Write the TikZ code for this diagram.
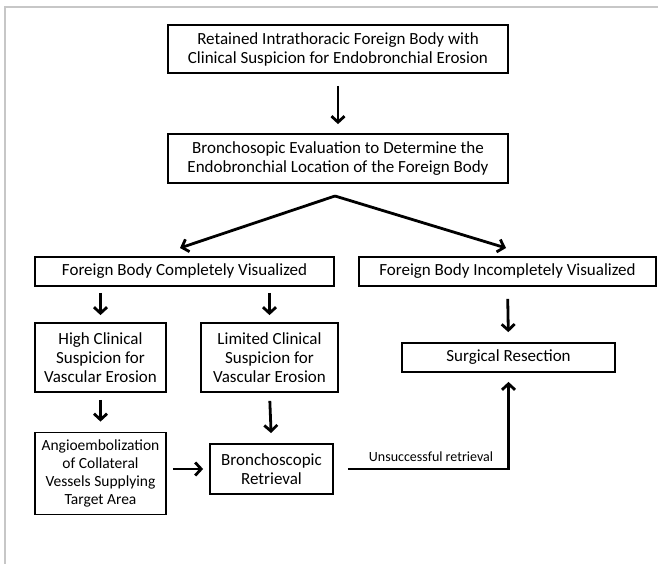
\documentclass[tikz,border=0pt]{standalone}
\usepackage{fontspec}
\setmainfont{Carlito}
\usetikzlibrary{arrows.meta}
\begin{document}
\begin{tikzpicture}[x=1pt,y=-1pt,
  box/.style={draw=black, line width=1.8pt, align=center, inner sep=0pt,
    font=\fontsize{17}{19}\selectfont},
  arr/.style={draw=black, line width=2.8pt,
    -{Straight Barb[length=6pt,width=13pt]}},
  lbl/.style={font=\fontsize{14}{15}\selectfont, inner sep=0pt}]
\useasboundingbox (0,0) rectangle (658,564);
\draw[black!22, line width=2.2pt] (5,564) -- (5,7) -- (658,7);

\node[box, minimum width=340pt, minimum height=48pt] (b1) at (338,49)
  {Retained Intrathoracic Foreign Body with\\Clinical Suspicion for Endobronchial Erosion};
\node[box, minimum width=340pt, minimum height=49pt] (b2) at (338,158.5)
  {Bronchosopic Evaluation to Determine the\\Endobronchial Location of the Foreign Body};
\node[box, minimum width=299pt, minimum height=29pt] (b3) at (184.5,271.5)
  {Foreign Body Completely Visualized};
\node[box, minimum width=297pt, minimum height=29pt] (b4) at (507.5,271.5)
  {Foreign Body Incompletely Visualized};
\node[box, minimum width=131pt, minimum height=69pt] (hi) at (100.5,357.5)
  {High Clinical\\Suspicion for\\Vascular Erosion};
\node[box, minimum width=137pt, minimum height=69pt] (li) at (269.5,357.5)
  {Limited Clinical\\Suspicion for\\Vascular Erosion};
\node[box, minimum width=213pt, minimum height=29pt] (sr) at (508.5,357.5)
  {Surgical Resection};
\node[box, minimum width=131pt, minimum height=82pt,
  font=\fontsize{15.5}{18}\selectfont] (an) at (100.5,473.5)
  {Angioembolization\\of Collateral\\Vessels Supplying\\Target Area};
\node[box, minimum width=123pt, minimum height=50pt] (br) at (271.5,469)
  {Bronchoscopic\\Retrieval};

\coordinate (apex) at (335,196);
\coordinate (sl) at (180,248);
\coordinate (sre) at (506,248);

\draw[arr, shorten <=12pt, shorten >=9pt] (b1.south) -- (b2.north);
\draw[arr] (apex) -- (sl);
\draw[arr] (apex) -- (sre);
\draw[arr, shorten <=6pt, shorten >=7pt] (b3.south -| hi.north) -- (hi.north);
\draw[arr, shorten <=6pt, shorten >=7pt] (b3.south -| li.north) -- (li.north);
\draw[arr, shorten <=12pt, shorten >=10pt] (b4.south) -- (sr.north);
\draw[arr, shorten <=7pt, shorten >=10pt] (hi.south) -- (an.north);
\draw[arr, shorten <=8pt, shorten >=10pt] (li.south) -- (br.north);
\draw[arr, shorten <=6pt, shorten >=6pt] (an.east |- br.west) -- (br.west);
\draw[arr, shorten <=14pt, shorten >=9pt] (br.east) -| (sr.south);
\node[lbl] (ul) at (431,457) {Unsuccessful retrieval};
\end{tikzpicture}
\end{document}
